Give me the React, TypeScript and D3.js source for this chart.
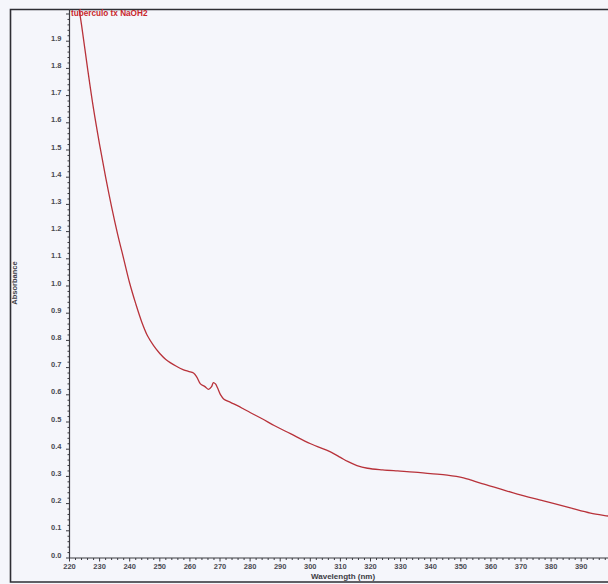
import React, { useEffect, useRef } from 'react';
import * as d3 from 'd3';

// wavelength (nm) and absorbance
const wavelengths = [222, 224, 226, 228, 230, 232, 234, 236, 238, 240, 242, 244, 246, 248, 250, 252, 255.5, 257.9, 259.5, 261.2, 262.3, 263.5, 265.0, 266.2, 267.2, 267.8, 268.5, 269.2, 270.2, 271.2, 273.5, 275.8, 278.0, 280, 284, 288, 293.4, 300.1, 306.7, 310.0, 312.4, 315.5, 319.0, 324.0, 329.0, 334.5, 339.9, 345.5, 350.9, 353.5, 356.5, 362.2, 368.8, 377.5, 386.4, 393.1, 399.1, 400];
const absorbance = [2.10, 1.96, 1.80, 1.65, 1.52, 1.40, 1.29, 1.19, 1.10, 1.01, 0.935, 0.868, 0.815, 0.78, 0.752, 0.73, 0.705, 0.692, 0.686, 0.68, 0.665, 0.64, 0.63, 0.62, 0.63, 0.645, 0.64, 0.625, 0.60, 0.585, 0.572, 0.56, 0.547, 0.535, 0.512, 0.487, 0.457, 0.42, 0.39, 0.37, 0.355, 0.34, 0.33, 0.324, 0.32, 0.316, 0.31, 0.305, 0.295, 0.286, 0.275, 0.257, 0.235, 0.21, 0.184, 0.165, 0.154, 0.152];

const xTicks = [220, 230, 240, 250, 260, 270, 280, 290, 300, 310, 320, 330, 340, 350, 360, 370, 380, 390];
const yTicks = [0.0, 0.1, 0.2, 0.3, 0.4, 0.5, 0.6, 0.7, 0.8, 0.9, 1.0, 1.1, 1.2, 1.3, 1.4, 1.5, 1.6, 1.7, 1.8, 1.9];

const seriesName = 'tuberculo tx NaOH2';
const xTitle = 'Wavelength (nm)';
const yTitle = 'Absorbance';

export default function App() {
    const svgRef = useRef<SVGSVGElement>(null);

    useEffect(() => {
        if (!svgRef.current) return;
        const svg = d3.select(svgRef.current);
        svg.selectAll('*').remove();

        const W = 608, H = 584;
        const left = 69.5, bottom = 558, top = 9;

        svg.append('rect').attr('width', W).attr('height', H).attr('fill', '#f5f6fb');

        // outer frame (right side runs off the page)
        svg.append('path')
            .attr('d', `M${W + 5},9.5 H10.5 V582 H${W + 5}`)
            .attr('fill', 'none')
            .attr('stroke', '#2e2e34')
            .attr('stroke-width', 1.6);

        const x = d3.scaleLinear().domain([220, 400]).range([left, left + 180 * 3.01]);
        const y = d3.scaleLinear().domain([0, (bottom - top) / 272]).range([bottom, top]);

        const fontFam = '"Liberation Sans", Arial, sans-serif';
        const axisColor = '#3a3a40';

        // x axis
        const xAxis = svg.append('g').attr('transform', `translate(0,${bottom})`);
        xAxis.append('line').attr('x1', left).attr('x2', W + 5).attr('stroke', axisColor).attr('stroke-width', 1.2);
        xAxis.selectAll('line.minor')
            .data(d3.range(220, 402, 2))
            .join('line')
            .attr('class', 'minor')
            .attr('x1', d => x(d)).attr('x2', d => x(d))
            .attr('y1', 0).attr('y2', d => (d % 10 === 0 ? 3.5 : 2))
            .attr('stroke', axisColor)
            .attr('stroke-width', 1);
        xAxis.selectAll('text')
            .data(xTicks)
            .join('text')
            .attr('x', d => x(d))
            .attr('y', 10.5)
            .attr('text-anchor', 'middle')
            .attr('font-family', fontFam)
            .attr('font-weight', 'bold')
            .attr('font-size', 7.5)
            .attr('fill', '#4a4a52')
            .text(d => d);

        // y axis
        const yAxis = svg.append('g').attr('transform', `translate(${left},0)`);
        yAxis.append('line').attr('y1', top).attr('y2', bottom).attr('stroke', axisColor).attr('stroke-width', 1.2);
        yAxis.selectAll('line.minor')
            .data(d3.range(0, 201, 2).map(v => v / 100).filter(v => y(v) >= top))
            .join('line')
            .attr('class', 'minor')
            .attr('y1', d => y(d)).attr('y2', d => y(d))
            .attr('x1', 0).attr('x2', (d, i) => (i % 5 === 0 ? -3.5 : -2))
            .attr('stroke', axisColor)
            .attr('stroke-width', 1);
        yAxis.selectAll('text')
            .data(yTicks)
            .join('text')
            .attr('x', -8)
            .attr('y', d => y(d) - 0.5)
            .attr('text-anchor', 'end')
            .attr('font-family', fontFam)
            .attr('font-weight', 'bold')
            .attr('font-size', 7.5)
            .attr('fill', '#4a4a52')
            .text(d => d.toFixed(1));

        // axis titles
        svg.append('text')
            .attr('x', 311).attr('y', 579)
            .attr('font-family', fontFam).attr('font-weight', 'bold').attr('font-size', 8)
            .attr('fill', '#3c3c44')
            .text(xTitle);
        svg.append('text')
            .attr('transform', 'translate(17,283) rotate(-90)')
            .attr('text-anchor', 'middle')
            .attr('font-family', fontFam).attr('font-weight', 'bold').attr('font-size', 7.5)
            .attr('fill', '#3c3c44')
            .text(yTitle);

        // curve
        svg.append('clipPath').attr('id', 'plotclip')
            .append('rect').attr('x', left).attr('y', top + 1).attr('width', W).attr('height', bottom - top);

        const pts = wavelengths.map((w, i) => [w, absorbance[i]] as [number, number]);
        const line = d3.line<[number, number]>()
            .x(d => x(d[0]))
            .y(d => y(d[1]))
            .curve(d3.curveCatmullRom.alpha(0.5));

        svg.append('path')
            .datum(pts)
            .attr('clip-path', 'url(#plotclip)')
            .attr('d', line)
            .attr('fill', 'none')
            .attr('stroke', '#b8323a')
            .attr('stroke-width', 1.3);

        svg.append('text')
            .attr('x', 71).attr('y', 15.5)
            .attr('font-family', fontFam).attr('font-weight', 'bold').attr('font-size', 8.2)
            .attr('fill', '#c8262c')
            .text(seriesName);
    }, []);

    return (
        <svg ref={svgRef} width={608} height={584}
            style={{ position: 'absolute', left: 0, top: 0, display: 'block' }} />
    );
}
